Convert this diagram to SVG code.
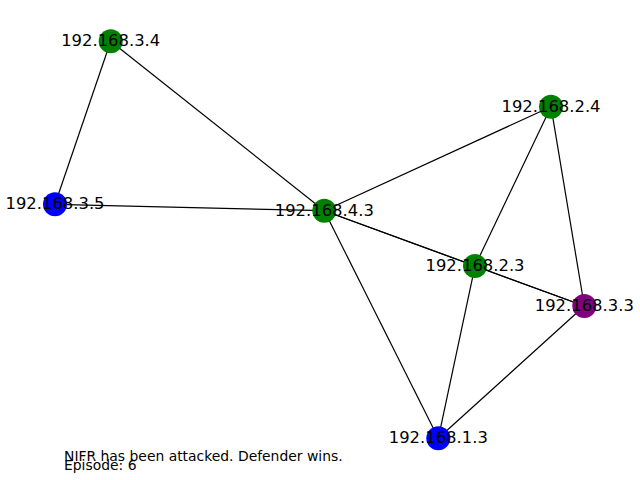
<svg xmlns="http://www.w3.org/2000/svg" width="640" height="480" viewBox="0 0 640 480">
  <style>
    .edge { stroke: #000; stroke-width: 1.2; fill: none; }
    .node { stroke: none; }
    .green { fill: #008000; }
    .blue { fill: #0000ff; }
    .purple { fill: #800080; }
    .label { font-family: "DejaVu Sans", sans-serif; font-size: 16.4px; fill: #000; text-anchor: middle; dominant-baseline: central; }
    .note { font-family: "DejaVu Sans", sans-serif; font-size: 13.9px; fill: #000; }
  </style>
  <rect width="640" height="480" fill="#fff"/>
  <g id="edges">
    <line class="edge" x1="110.7" y1="41.3" x2="55" y2="204.3"/>
    <line class="edge" x1="110.7" y1="41.3" x2="324.3" y2="210.7"/>
    <line class="edge" x1="55" y1="204.3" x2="324.3" y2="210.7"/>
    <line class="edge" x1="324.3" y1="210.7" x2="551" y2="106.7"/>
    <line class="edge" x1="324.3" y1="210.7" x2="475" y2="266"/>
    <line class="edge" x1="324.3" y1="210.7" x2="584.3" y2="306"/>
    <line class="edge" x1="324.3" y1="210.7" x2="438.3" y2="438.3"/>
    <line class="edge" x1="551" y1="106.7" x2="475" y2="266"/>
    <line class="edge" x1="551" y1="106.7" x2="584.3" y2="306"/>
    <line class="edge" x1="475" y1="266" x2="584.3" y2="306"/>
    <line class="edge" x1="475" y1="266" x2="438.3" y2="438.3"/>
    <line class="edge" x1="584.3" y1="306" x2="438.3" y2="438.3"/>
  </g>
  <g id="n-192.168.3.4">
    <circle class="node green" cx="110.7" cy="41.3" r="12"/>
    <text class="label" x="110.7" y="40.8">192.168.3.4</text>
  </g>
  <g id="n-192.168.3.5">
    <circle class="node blue" cx="55" cy="204.3" r="12"/>
    <text class="label" x="55" y="203.8">192.168.3.5</text>
  </g>
  <g id="n-192.168.4.3">
    <circle class="node green" cx="324.3" cy="210.7" r="12"/>
    <text class="label" x="324.3" y="210.2">192.168.4.3</text>
  </g>
  <g id="n-192.168.2.4">
    <circle class="node green" cx="551" cy="106.7" r="12"/>
    <text class="label" x="551" y="106.2">192.168.2.4</text>
  </g>
  <g id="n-192.168.2.3">
    <circle class="node green" cx="475" cy="266" r="12"/>
    <text class="label" x="475" y="265.5">192.168.2.3</text>
  </g>
  <g id="n-192.168.3.3">
    <circle class="node purple" cx="584.3" cy="306" r="12"/>
    <text class="label" x="584.3" y="305.5">192.168.3.3</text>
  </g>
  <g id="n-192.168.1.3">
    <circle class="node blue" cx="438.3" cy="438.3" r="12"/>
    <text class="label" x="438.3" y="437.8">192.168.1.3</text>
  </g>
  <g id="status">
    <text class="note" x="64" y="461">NIFR has been attacked. Defender wins.</text>
    <text class="note" x="64" y="470">Episode: 6</text>
  </g>
</svg>
